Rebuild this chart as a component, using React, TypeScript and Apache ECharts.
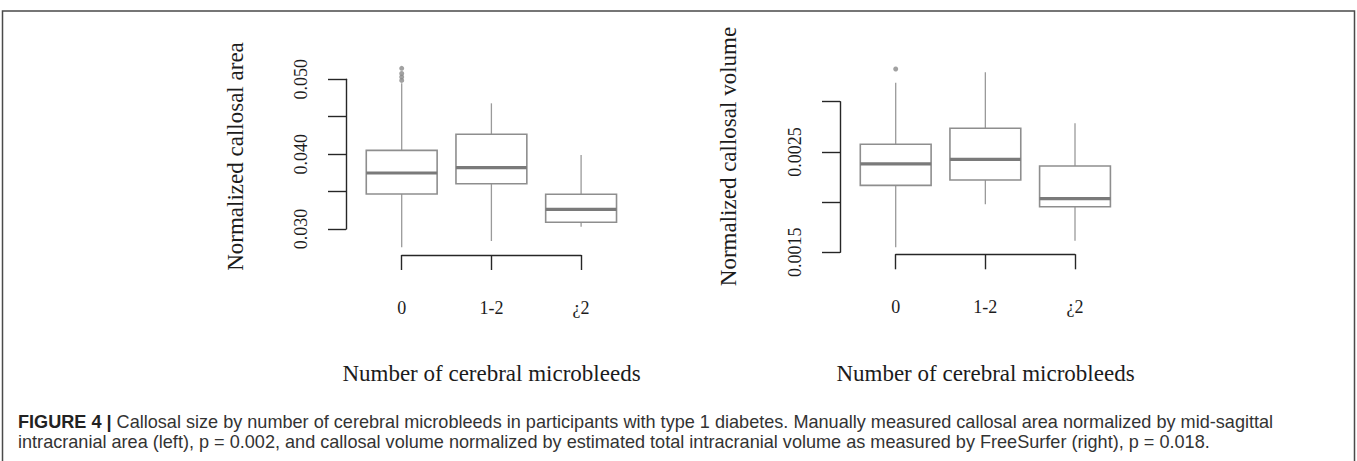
import React, { useEffect, useRef } from "react";
import * as echarts from "echarts";

// ---------- data ----------
const categories = ["0", "1-2", "¿2"];

// each row: [min, Q1, median, Q3, max]
const areaBoxes = [
  [0.02755, 0.03468, 0.03748, 0.0405, 0.04947],
  [0.0284, 0.03605, 0.03819, 0.04265, 0.04679],
  [0.0303, 0.0309, 0.03263, 0.03464, 0.0399],
];
const areaOutliers = [
  [0, 0.04985],
  [0, 0.05031],
  [0, 0.05077],
  [0, 0.05147],
];

const volumeBoxes = [
  [0.00155, 0.002167, 0.00238, 0.002576, 0.003189],
  [0.001978, 0.00222, 0.002426, 0.002735, 0.003293],
  [0.001616, 0.001954, 0.002034, 0.00236, 0.002785],
];
const volumeOutliers = [[0, 0.003326]];

const areaTickValues = [0.03, 0.035, 0.04, 0.045, 0.05];
const areaTickLabels = ["0.030", "", "0.040", "", "0.050"];
const volumeTickValues = [0.0015, 0.002, 0.0025, 0.003];
const volumeTickLabels = ["0.0015", "", "0.0025", ""];

const yTitles = ["Normalized callosal area", "Normalized callosal volume"];
const xTitle = "Number of cerebral microbleeds";
const captionLine1 =
  "{b|FIGURE 4 |} Callosal size by number of cerebral microbleeds in participants with type 1 diabetes. Manually measured callosal area normalized by mid-sagittal";
const captionLine2 =
  "intracranial area (left), p = 0.002, and callosal volume normalized by estimated total intracranial volume as measured by FreeSurfer (right), p = 0.018.";

// ---------- layout ----------
const SERIF = "'Liberation Serif', 'Times New Roman', serif";
const SANS = "'Liberation Sans', Arial, sans-serif";
const CAPTION_SIZE = 18.1;

const panels = [
  {
    boxes: areaBoxes,
    outliers: areaOutliers,
    tickValues: areaTickValues,
    tickLabels: areaTickLabels,
    yAxisX: 346,
    tickTopPx: 79.3,
    tickBottomPx: 229,
    plotMin: 0.026,
    plotMax: 0.053,
    xAxisY: 255,
    firstCatX: 401.7,
    catStep: 89.7,
    yTitleX: 235,
    xTitleX: 491.5,
  },
  {
    boxes: volumeBoxes,
    outliers: volumeOutliers,
    tickValues: volumeTickValues,
    tickLabels: volumeTickLabels,
    yAxisX: 840,
    tickTopPx: 101.7,
    tickBottomPx: 252.3,
    plotMin: 0.0013,
    plotMax: 0.0035,
    xAxisY: 254.3,
    firstCatX: 895.7,
    catStep: 89.65,
    yTitleX: 728,
    xTitleX: 985.5,
  },
];

const BOX_STROKE = "#8e8e8e";
const MEDIAN_STROKE = "#7a7a7a";
const WHISKER_STROKE = "#9a9a9a";
const AXIS_COLOR = "#262626";
const TEXT_COLOR = "#1c1c1c";

function buildOption() {
  const grid: any[] = [];
  const xAxis: any[] = [];
  const yAxis: any[] = [];
  const series: any[] = [];
  const graphic: any[] = [];

  panels.forEach((p, pi) => {
    const tickLo = p.tickValues[0];
    const tickHi = p.tickValues[p.tickValues.length - 1];
    const pxPerUnit = (p.tickBottomPx - p.tickTopPx) / (tickHi - tickLo);
    const plotTop = p.tickTopPx - (p.plotMax - tickHi) * pxPerUnit;
    const plotHeight = (p.plotMax - p.plotMin) * pxPerUnit;
    const base = pi * 3;

    // plot grid
    grid.push({
      left: p.firstCatX - p.catStep / 2,
      width: p.catStep * categories.length,
      top: plotTop,
      height: plotHeight,
    });
    // y axis line grid
    grid.push({
      left: p.yAxisX,
      width: 10,
      top: p.tickTopPx,
      height: p.tickBottomPx - p.tickTopPx,
    });
    // x axis line grid
    grid.push({
      left: p.firstCatX,
      width: p.catStep * (categories.length - 1),
      top: p.xAxisY - 40,
      height: 40,
    });

    xAxis.push({
      gridIndex: base,
      type: "category",
      data: categories,
      show: false,
    });
    yAxis.push({
      gridIndex: base,
      type: "value",
      min: p.plotMin,
      max: p.plotMax,
      show: false,
    });

    xAxis.push({ gridIndex: base + 1, type: "value", show: false });
    const step = p.tickValues[1] - p.tickValues[0];
    yAxis.push({
      gridIndex: base + 1,
      type: "value",
      position: "left",
      min: tickLo,
      max: tickHi,
      interval: step,
      splitLine: { show: false },
      axisLine: { show: true, lineStyle: { color: AXIS_COLOR, width: 1.4 } },
      axisTick: {
        show: true,
        inside: false,
        length: 18,
        lineStyle: { color: AXIS_COLOR, width: 1.4 },
      },
      axisLabel: {
        show: true,
        rotate: 90,
        margin: 36,
        fontFamily: SERIF,
        fontSize: 18,
        color: TEXT_COLOR,
        formatter: (v: number) => {
          const idx = p.tickValues.findIndex((t) => Math.abs(t - v) < step / 100);
          return idx >= 0 ? p.tickLabels[idx] : "";
        },
      },
    });

    xAxis.push({
      gridIndex: base + 2,
      type: "category",
      data: categories,
      boundaryGap: false,
      position: "bottom",
      axisLine: { show: true, lineStyle: { color: AXIS_COLOR, width: 1.4 } },
      axisTick: {
        show: true,
        inside: false,
        length: 15,
        interval: 0,
        lineStyle: { color: AXIS_COLOR, width: 1.4 },
      },
      axisLabel: {
        show: true,
        interval: 0,
        margin: 44,
        fontFamily: SERIF,
        fontSize: 18,
        color: TEXT_COLOR,
      },
      splitLine: { show: false },
    });
    yAxis.push({ gridIndex: base + 2, type: "value", show: false });

    series.push({
      type: "custom",
      xAxisIndex: base,
      yAxisIndex: base,
      encode: { x: 0, y: [1, 2, 3, 4, 5] },
      data: p.boxes.map((b, i) => [i, ...b]),
      renderItem: (params: any, api: any) => {
        const idx = api.value(0);
        const pMin = api.coord([idx, api.value(1)]);
        const pQ1 = api.coord([idx, api.value(2)]);
        const pMed = api.coord([idx, api.value(3)]);
        const pQ3 = api.coord([idx, api.value(4)]);
        const pMax = api.coord([idx, api.value(5)]);
        const cx = pMed[0];
        const bw = api.size([1, 0])[0] * 0.79;
        return {
          type: "group",
          children: [
            {
              type: "line",
              shape: { x1: cx, y1: pMax[1], x2: cx, y2: pQ3[1] },
              style: { stroke: WHISKER_STROKE, lineWidth: 1.3 },
            },
            {
              type: "line",
              shape: { x1: cx, y1: pQ1[1], x2: cx, y2: pMin[1] },
              style: { stroke: WHISKER_STROKE, lineWidth: 1.3 },
            },
            {
              type: "rect",
              shape: { x: cx - bw / 2, y: pQ3[1], width: bw, height: pQ1[1] - pQ3[1] },
              style: { fill: "#ffffff", stroke: BOX_STROKE, lineWidth: 1.6 },
            },
            {
              type: "line",
              shape: { x1: cx - bw / 2, y1: pMed[1], x2: cx + bw / 2, y2: pMed[1] },
              style: { stroke: MEDIAN_STROKE, lineWidth: 3.2 },
            },
          ],
        };
      },
    });
    series.push({
      type: "scatter",
      xAxisIndex: base,
      yAxisIndex: base,
      symbol: "circle",
      symbolSize: 5,
      itemStyle: { color: "#8a8a8a" },
      data: p.outliers,
      clip: false,
    });

    graphic.push({
      type: "text",
      x: p.yTitleX,
      y: 156.5,
      rotation: Math.PI / 2,
      style: {
        text: yTitles[pi],
        fontFamily: SERIF,
        fontSize: 23,
        fill: TEXT_COLOR,
        align: "center",
        verticalAlign: "middle",
        textAlign: "center",
        textVerticalAlign: "middle",
      },
    });
    graphic.push({
      type: "text",
      x: p.xTitleX,
      y: 373,
      style: {
        text: xTitle,
        fontFamily: SERIF,
        fontSize: 23,
        fill: TEXT_COLOR,
        align: "center",
        verticalAlign: "middle",
        textAlign: "center",
        textVerticalAlign: "middle",
      },
    });
  });

  graphic.push({
    type: "rect",
    shape: { x: 2.5, y: 11, width: 1352, height: 480 },
    style: { fill: "none", stroke: "#4a4a4a", lineWidth: 1.5 },
    silent: true,
  });
  graphic.push({
    type: "text",
    x: 18,
    y: 422,
    style: {
      text: captionLine1,
      fontFamily: SANS,
      fontSize: CAPTION_SIZE,
      fill: "#333333",
      align: "left",
      verticalAlign: "middle",
      textAlign: "left",
      textVerticalAlign: "middle",
      rich: {
        b: { fontFamily: SANS, fontSize: CAPTION_SIZE, fontWeight: "bold", fill: "#222222" },
      },
    },
  });
  graphic.push({
    type: "text",
    x: 18,
    y: 442,
    style: {
      text: captionLine2,
      fontFamily: SANS,
      fontSize: CAPTION_SIZE,
      fill: "#333333",
      align: "left",
      verticalAlign: "middle",
      textAlign: "left",
      textVerticalAlign: "middle",
    },
  });

  return {
    animation: false,
    backgroundColor: "#ffffff",
    grid,
    xAxis,
    yAxis,
    series,
    graphic,
  };
}

export default function App() {
  const ref = useRef<HTMLDivElement>(null);
  useEffect(() => {
    if (!ref.current) return;
    const chart = echarts.init(ref.current, undefined, { renderer: "svg" });
    chart.setOption(buildOption() as any);
    return () => chart.dispose();
  }, []);
  return (
    <div
      ref={ref}
      style={{ position: "absolute", left: 0, top: 0, width: 1357, height: 461, background: "#fff" }}
    />
  );
}
